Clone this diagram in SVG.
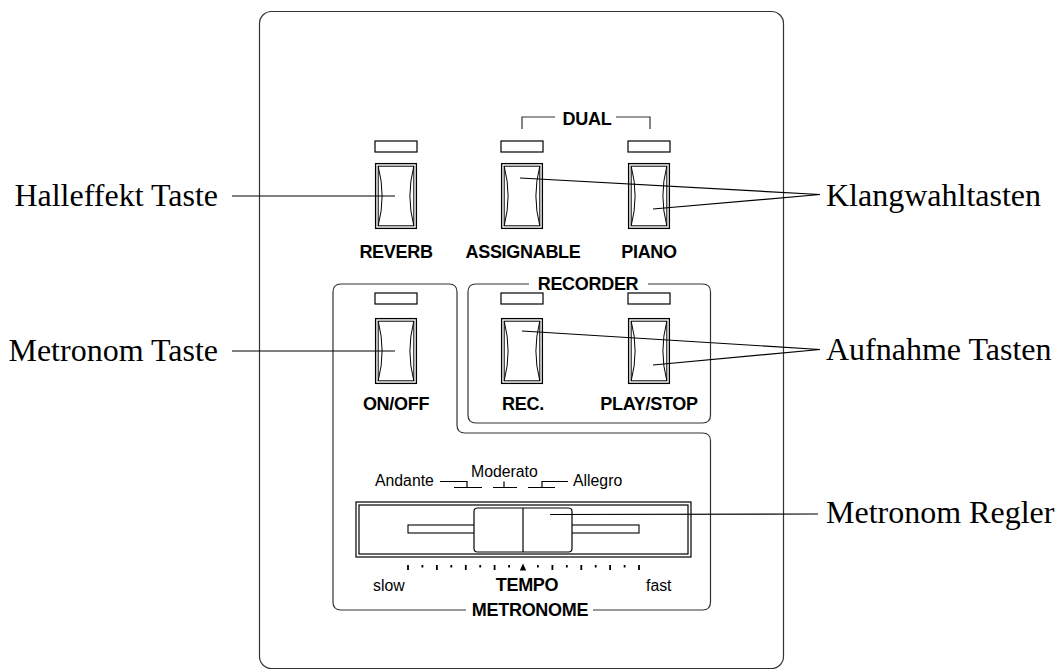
<svg xmlns="http://www.w3.org/2000/svg" xmlns:xlink="http://www.w3.org/1999/xlink" width="1063" height="671" viewBox="0 0 1063 671">
<style>
.frame{fill:none;stroke:#333;stroke-width:1.2}
.ln{fill:none;stroke:#000;stroke-width:1.2}
.lbl{font-family:"Liberation Sans",Arial,sans-serif;font-weight:bold;font-size:18px;letter-spacing:-0.3px;fill:#000;text-anchor:middle}
.sm{font-family:"Liberation Sans",Arial,sans-serif;font-size:15.8px;fill:#000}
.call{font-family:"Liberation Serif","Times New Roman",serif;font-size:32px;fill:#000}
.tick{stroke:#000;stroke-width:1.8}
</style>
<defs>
<g id="btn">
<rect x="0.6" y="0.6" width="40.8" height="64.8" fill="#fff" stroke="#000" stroke-width="1.3"/>
<rect x="3.2" y="3.2" width="35.6" height="59.6" fill="none" stroke="#000" stroke-width="1"/>
<path d="M3.2,3.2 Q11,33 3.2,62.8 M38.8,3.2 Q31,33 38.8,62.8" fill="none" stroke="#000" stroke-width="1"/>
</g>
<rect id="led" x="0" y="0" width="42" height="11" fill="#fff" stroke="#000" stroke-width="1.2"/>
</defs>
<rect width="1063" height="671" fill="#fff"/>
<g id="panel">
<rect class="frame" x="259.5" y="11.5" width="524" height="657" rx="12"/>
</g>
<g id="dual">
<path class="frame" d="M522,129 L522,117 L555,117 M616,117 L650,117 L650,129"/>
<text class="lbl" x="587" y="125">DUAL</text>
</g>
<g id="reverb">
<use xlink:href="#led" x="375" y="141"/>
<use xlink:href="#btn" x="375" y="163"/>
<text class="lbl" x="396" y="258">REVERB</text>
</g>
<g id="assignable">
<use xlink:href="#led" x="501" y="141"/>
<use xlink:href="#btn" x="501" y="163"/>
<text class="lbl" x="523" y="258">ASSIGNABLE</text>
</g>
<g id="piano">
<use xlink:href="#led" x="628" y="141"/>
<use xlink:href="#btn" x="628" y="163"/>
<text class="lbl" x="649" y="258">PIANO</text>
</g>
<g id="recorder">
<path class="frame" d="M529,284 L476,284 Q468,284 468,292 L468,415 Q468,423 476,423 L702.5,423 Q710.5,423 710.5,415 L710.5,292 Q710.5,284 702.5,284 L648,284"/>
<text class="lbl" x="588" y="290">RECORDER</text>
</g>
<g id="onoff">
<use xlink:href="#led" x="375" y="293"/>
<use xlink:href="#btn" x="375" y="318"/>
<text class="lbl" x="396" y="410">ON/OFF</text>
</g>
<g id="rec">
<use xlink:href="#led" x="501" y="293"/>
<use xlink:href="#btn" x="501" y="318"/>
<text class="lbl" x="523" y="410">REC.</text>
</g>
<g id="playstop">
<use xlink:href="#led" x="628" y="293"/>
<use xlink:href="#btn" x="628" y="318"/>
<text class="lbl" x="649" y="410">PLAY/STOP</text>
</g>
<g id="metronome">
<path class="frame" d="M466,610 L341,610 Q333,610 333,602 L333,292 Q333,284 341,284 L449,284 Q457,284 457,292 L457,425 Q457,433 465,433 L702.5,433 Q710.5,433 710.5,441 L710.5,602 Q710.5,610 702.5,610 L593,610"/>
<text class="lbl" x="530" y="616">METRONOME</text>
<text class="sm" x="375" y="486">Andante</text>
<text class="sm" x="471" y="477">Moderato</text>
<text class="sm" x="573" y="486">Allegro</text>
<path class="ln" stroke-width="1" d="M440,481.5 L467,481.5 L467,487.5 M454,487.5 L482,487.5 M504,481.5 L504,487.5 M493,487.5 L517,487.5 M528,487.5 L555,487.5 M542,487.5 L542,481.5 L568,481.5"/>
</g>
<g id="slider">
<rect x="356" y="502" width="335" height="55" fill="#fff" stroke="#000" stroke-width="1.2"/>
<rect x="359" y="505" width="329" height="49" fill="none" stroke="#000" stroke-width="1.2"/>
<rect x="408" y="525" width="231" height="8" fill="#fff" stroke="#000" stroke-width="1.1"/>
<rect x="474" y="508" width="98" height="44" rx="3.5" fill="#fff" stroke="#000" stroke-width="1.2"/>
<line x1="523" y1="508" x2="523" y2="552" stroke="#000" stroke-width="1.2"/>
<g class="tick">
<line x1="408" y1="565" x2="408" y2="570"/>
<line x1="422.4" y1="565" x2="422.4" y2="567.5"/>
<line x1="436.9" y1="565" x2="436.9" y2="570"/>
<line x1="451.3" y1="565" x2="451.3" y2="567.5"/>
<line x1="465.8" y1="565" x2="465.8" y2="570"/>
<line x1="480.2" y1="565" x2="480.2" y2="567.5"/>
<line x1="494.6" y1="565" x2="494.6" y2="570"/>
<line x1="509.1" y1="565" x2="509.1" y2="567.5"/>
<line x1="537.9" y1="565" x2="537.9" y2="567.5"/>
<line x1="552.4" y1="565" x2="552.4" y2="570"/>
<line x1="566.8" y1="565" x2="566.8" y2="567.5"/>
<line x1="581.3" y1="565" x2="581.3" y2="570"/>
<line x1="595.7" y1="565" x2="595.7" y2="567.5"/>
<line x1="610.1" y1="565" x2="610.1" y2="570"/>
<line x1="624.6" y1="565" x2="624.6" y2="567.5"/>
<line x1="639" y1="565" x2="639" y2="570"/>
</g>
<polygon points="519.8,570.5 526.2,570.5 523,563.5" fill="#000"/>
<text class="sm" x="373" y="591">slow</text>
<text class="lbl" x="527" y="591">TEMPO</text>
<text class="sm" x="646" y="591">fast</text>
</g>
<g id="connectors">
<line class="ln" x1="232" y1="196" x2="395" y2="196"/>
<line class="ln" x1="232" y1="351" x2="395" y2="351"/>
<polyline class="ln" points="520,178 820,194.5 653,209"/>
<polyline class="ln" points="522,331 820,349.5 653,365"/>
<line class="ln" x1="550" y1="514.5" x2="818" y2="514"/>
</g>
<g id="callouts">
<text class="call" x="218" y="206" text-anchor="end">Halleffekt Taste</text>
<text class="call" x="218" y="361" text-anchor="end">Metronom Taste</text>
<text class="call" x="826" y="206">Klangwahltasten</text>
<text class="call" x="826" y="360">Aufnahme Tasten</text>
<text class="call" x="826" y="523">Metronom Regler</text>
</g>
</svg>
